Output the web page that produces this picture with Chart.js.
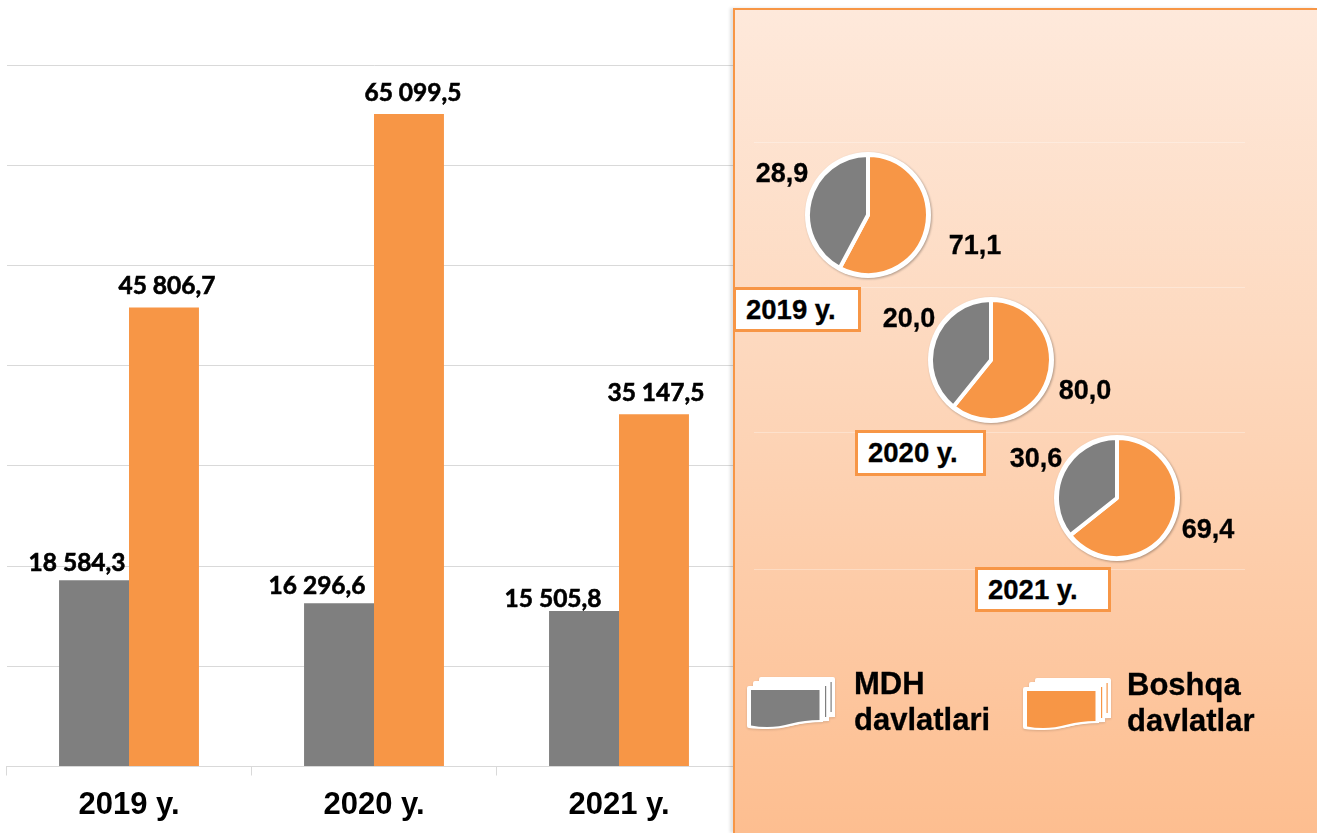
<!DOCTYPE html>
<html><head><meta charset="utf-8">
<script src="https://cdn.jsdelivr.net/npm/chart.js@4"></script>
<style>
html,body{margin:0;padding:0;background:#fff;overflow:hidden}
#stage{position:relative;width:1317px;height:833px;overflow:hidden;font-family:"Liberation Sans",Arial,sans-serif;font-weight:700;color:#000}
#bars{position:absolute;left:0;top:0}
#panel{position:absolute;left:733px;top:8px;width:584px;height:825px;box-sizing:border-box;border:2px solid #f79646;border-right:0;border-bottom:0;
 background:linear-gradient(180deg,#fee9db 0%,#fdd9bf 40%,#fdbe90 100%);box-shadow:-3px 0 3px rgba(0,0,0,.12)}
.rule{position:absolute;left:754px;width:491px;height:1px;background:rgba(255,255,255,.3)}
.pie{position:absolute;border-radius:50%;background:#fff;filter:drop-shadow(1px 1px 1px rgba(0,0,0,.3))}
.t{position:absolute;white-space:nowrap;line-height:1;transform:translate(-50%,-50%);-webkit-text-stroke:.3px #000}
.pl{font-size:27px}
.yr{position:absolute;box-sizing:border-box;background:#fff;border:3px solid #f79646;font-size:27.5px;display:flex;align-items:center;justify-content:flex-start;padding-left:10px;-webkit-text-stroke:.3px #000}
.lg{position:absolute;font-size:31px;line-height:36.5px;white-space:pre;-webkit-text-stroke:.3px #000}
svg{position:absolute}
</style></head>
<body><div id="stage">
<canvas id="bars" width="1317" height="833"></canvas>
<div id="panel"></div>
</div>
<script>
// ----- data -----
const categories = ["2019 y.", "2020 y.", "2021 y."];
const cisValues = [18584.3, 16296.6, 15505.8];
const otherValues = [45806.7, 65099.5, 35147.5];
const cisLabels = ["18 584,3", "16 296,6", "15 505,8"];
const otherLabels = ["45 806,7", "65 099,5", "35 147,5"];
const seriesNames = ["MDH\ndavlatlari", "Boshqa\ndavlatlar"];
// Percent labels printed beside the pies
const piePrintedCis = ["28,9", "20,0", "30,6"];
const piePrintedOther = ["71,1", "80,0", "69,4"];
// Slice shares as actually drawn in the picture (they differ from the printed labels)
const pieDrawnOther = [57.8, 60.8, 64.3];
const pieDrawnCis = [42.2, 39.2, 35.7];

const GRAY = "#7f7f7f", ORANGE = "#f79646";
Chart.defaults.animation = false;

// ----- bar chart -----
const labelShift = [[-17, -9], [-22, -9], [-31, -4]];
const labelShiftOther = [[3, -13], [4, -13], [2, -13]];
const barLabels = {
  id: "barLabels",
  afterDatasetsDraw(c) {
    const g = c.ctx;
    g.save();
    g.font = "700 24.5px Lato";
    g.fillStyle = "#000";
    g.strokeStyle = "#000";
    g.lineWidth = 0.6;
    g.textAlign = "center";
    g.textBaseline = "alphabetic";
    [[0, cisLabels, labelShift], [1, otherLabels, labelShiftOther]].forEach(([d, txt, sh]) => {
      c.getDatasetMeta(d).data.forEach((b, i) => {
        g.fillText(txt[i], b.x + sh[i][0], b.y + sh[i][1]);
        g.strokeText(txt[i], b.x + sh[i][0], b.y + sh[i][1]);
      });
    });
    g.restore();
  }
};
new Chart(document.getElementById("bars"), {
  type: "bar",
  data: { labels: categories, datasets: [
    { label: "MDH davlatlari", data: cisValues, backgroundColor: GRAY },
    { label: "Boshqa davlatlar", data: otherValues, backgroundColor: ORANGE }
  ]},
  options: {
    responsive: false,
    layout: { padding: { left: 6.5, right: 575.5, top: 65, bottom: 0 } },
    plugins: { legend: { display: false }, tooltip: { enabled: false } },
    datasets: { bar: { categoryPercentage: 0.571, barPercentage: 1 } },
    scales: {
      x: {
        afterFit(s) { s.height = 66.5; },
        grid: { offset: true, drawOnChartArea: false, color: "#d9d9d9", tickLength: 9 },
        border: { color: "#d9d9d9" },
        ticks: { color: "#000", font: { family: "Liberation Sans", weight: "700", size: 31 }, padding: 11, maxRotation: 0 }
      },
      y: {
        min: 0, max: 70000,
        afterFit(s) { s.width = 0; },
        ticks: { stepSize: 10000, display: false },
        grid: { color: "#d9d9d9", drawTicks: false },
        border: { display: false }
      }
    }
  },
  plugins: [barLabels]
});

// ----- panel content -----
const stage = document.getElementById("stage");
[142, 287, 432, 569].forEach(y => {
  const r = document.createElement("div"); r.className = "rule"; r.style.top = y + "px"; stage.appendChild(r);
});
const pieCentres = [[868, 215], [991, 360], [1117, 498]];
const PIE = 126;
const cisPos = [[782, 173], [909, 318], [1036, 458]];
const otherPos = [[975, 245], [1085, 390], [1208, 529]];
const boxes = [[733, 287, 128, 45], [855, 430, 131, 46], [975, 567, 136, 45]];
function text(s, p, cls) {
  const e = document.createElement("div"); e.className = "t " + cls; e.textContent = s;
  e.style.left = p[0] + "px"; e.style.top = p[1] + "px"; stage.appendChild(e);
}
categories.forEach((cat, i) => {
  const cv = document.createElement("canvas");
  cv.className = "pie"; cv.width = PIE; cv.height = PIE;
  cv.style.left = (pieCentres[i][0] - PIE / 2) + "px";
  cv.style.top = (pieCentres[i][1] - PIE / 2) + "px";
  stage.appendChild(cv);
  new Chart(cv, {
    type: "pie",
    data: { labels: ["Boshqa davlatlar", "MDH davlatlari"], datasets: [{
      data: [pieDrawnOther[i], pieDrawnCis[i]],
      backgroundColor: [ORANGE, GRAY], borderColor: "#fff", borderWidth: 4
    }]},
    options: { responsive: false, layout: { padding: 1 },
      plugins: { legend: { display: false }, tooltip: { enabled: false } } }
  });
  text(piePrintedCis[i], cisPos[i], "pl");
  text(piePrintedOther[i], otherPos[i], "pl");
  const b = document.createElement("div"); b.className = "yr"; b.textContent = cat;
  const [x, y, w, h] = boxes[i];
  Object.assign(b.style, { left: x + "px", top: y + "px", width: w + "px", height: h + "px" });
  stage.appendChild(b);
});

// ----- legend -----
function legendIcon(x, y, fill) {
  const sh = (dx, dy) => `M${dx} ${dy+2}q0-2 2-2h72q2 0 2 2v38q-18 0-32 3.500t-25 3.500q-12 0-17-1q-2 0-2-2z`;
  const ns = "http://www.w3.org/2000/svg";
  const s = document.createElementNS(ns, "svg");
  s.setAttribute("width", 100); s.setAttribute("height", 62);
  s.style.left = x + "px"; s.style.top = y + "px"; s.style.filter = "drop-shadow(0 1px 1px rgba(0,0,0,.15))";
  s.innerHTML =
    `<path d="${sh(12,0)}" fill="#fff"/>` +
    `<rect x="83.500" y="5" width="1.2" height="30" fill="${fill}"/>` +
    `<path d="${sh(6,4)}" fill="#fff"/>` +
    `<rect x="78" y="9" width="1.2" height="31" fill="${fill}"/>` +
    `<path d="M0 11q0-2 2-2h72q2 0 2 2v34q-16 0-30 3.500t-25 3.500q-12 0-19-1q-2 0-2-2z" fill="#fff"/>` +
    `<path d="M4 13h68.500v30q-15 0-28 3.500t-24 3.500q-9 0-16.500-1.500z" fill="${fill}"/>`;
  stage.appendChild(s);
}
legendIcon(747, 677, GRAY);
legendIcon(1023, 678, ORANGE);
[[854, 665.5], [1127, 666.5]].forEach((p, i) => {
  const e = document.createElement("div"); e.className = "lg"; e.textContent = seriesNames[i];
  e.style.left = p[0] + "px"; e.style.top = p[1] + "px"; stage.appendChild(e);
});
</script>
</body></html>
